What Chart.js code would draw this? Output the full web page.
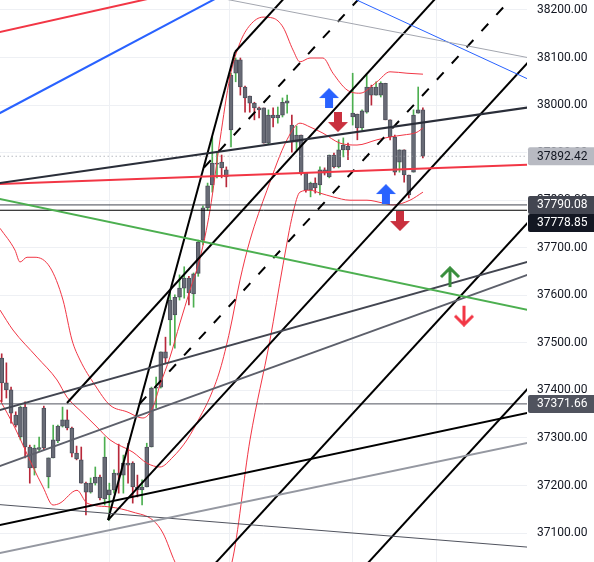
<!DOCTYPE html>
<html>
<head>
<meta charset="utf-8">
<script src="https://cdn.jsdelivr.net/npm/chart.js@4.4.1/dist/chart.umd.min.js"></script>
<style>
  html, body { margin: 0; padding: 0; background: #ffffff; }
  canvas { display: block; }
</style>
</head>
<body>
<canvas id="grafico" width="594" height="562"></canvas>
<script>
// Velas (índice de vela en el eje x)
const opens = [37468,37416,37401,37348,37302,37365,37281,37237,37276,37363,
  37218,37258,37294,37325,37338,37321,37268,37254,37205,37186,
  37205,37218,37172,37180,37191,37226,37222,37247,37247,37197,
  37191,37197,37281,37405,37407,37481,37548,37559,37596,37615,
  37636,37603,37646,37716,37784,37832,37876,37880,37864,37948,
  38067,38095,38038,38019,38004,37994,37994,37920,37979,37973,
  37979,38004,37958,37922,37937,37857,37821,37836,37832,37864,
  37849,37895,37870,37906,37914,37975,37981,37952,37985,38038,
  38021,38021,38046,37969,37933,37880,37906,37853,37859,37983,
  37990];
const highs = [37477,37458,37407,37355,37367,37376,37285,37285,37302,37367,
  37258,37327,37327,37365,37359,37323,37283,37281,37207,37216,
  37239,37222,37302,37205,37233,37287,37264,37289,37250,37222,
  37212,37289,37407,37428,37481,37512,37611,37601,37643,37660,
  37640,37647,37716,37788,37836,37933,37901,37895,37870,38067,
  38099,38099,38040,38019,38006,37996,37994,37990,37994,37996,
  38015,38021,37979,37956,37937,37857,37838,37847,37870,37868,
  37895,37899,37927,37931,37920,38067,37981,37990,38063,38042,
  38049,38049,38046,37969,37937,37906,37906,37853,37990,38038,
  37994];
const lows = [37376,37384,37331,37323,37296,37258,37205,37222,37273,37275,
  37195,37258,37290,37323,37317,37260,37254,37205,37138,37184,
  37201,37170,37159,37127,37184,37184,37184,37205,37163,37176,
  37159,37197,37281,37363,37405,37458,37495,37489,37590,37594,
  37580,37575,37640,37706,37779,37817,37847,37847,37828,37912,
  38049,38021,37985,37985,37969,37973,37920,37918,37954,37962,
  37975,37983,37901,37906,37853,37817,37807,37815,37811,37853,
  37847,37868,37868,37891,37885,37958,37927,37948,37983,38000,
  38021,38017,37969,37927,37853,37859,37838,37805,37859,37983,
  37889];
const closes = [37416,37401,37352,37327,37365,37281,37237,37279,37280,37279,
  37258,37296,37325,37338,37321,37268,37256,37205,37186,37205,
  37218,37174,37260,37191,37226,37222,37247,37243,37197,37191,
  37197,37281,37405,37407,37481,37468,37590,37596,37615,37636,
  37605,37645,37712,37784,37830,37878,37878,37868,37849,38063,
  38095,38038,38015,38004,37994,37990,37920,37979,37973,37979,
  38006,38009,37922,37937,37857,37821,37836,37826,37864,37857,
  37895,37870,37906,37916,37906,37983,37952,37988,38038,38021,
  38038,38046,37969,37933,37859,37906,37853,37811,37979,37990,
  37892.42];

// Eje de precios y separadores de sesión
const priceTicks = [37100,37200,37300,37400,37500,37600,37700,37800,37900,38000,38100,38200];
const sessionBreaks = [23.14, 48.78, 75.06, 93.01];

// Bandas (índice, precio)
const upperBand = [[-0.36,37741],[2.84,37695],[3.91,37670],[5.41,37680],[7.12,37680],[10.32,37659],
  [13.1,37590],[15.02,37506],[16.73,37464],[19.94,37411],[23.14,37369],[26.77,37355],[30.19,37342],
  [32.33,37365],[33.82,37411],[35.96,37470],[38.1,37542],[40.24,37611],[42.37,37678],[44.51,37779],
  [46.65,37927],[48.78,38059],[50.92,38131],[53.06,38168],[55.83,38185],[57.97,38183],[60.11,38164],
  [62.24,38116],[63.74,38091],[65.88,38099],[68.65,38099],[70.79,38067],[73.78,38032],[76.56,38025],
  [80.19,38049],[82.97,38070],[86.6,38067],[90.02,38065]];
const basisBand = [[-0.36,37569],[2.41,37527],[7.54,37470],[11.82,37422],[13.95,37386],[17.37,37352],
  [20.36,37323],[23.14,37296],[28.06,37270],[31.05,37247],[33.82,37239],[36.6,37260],[39.6,37296],
  [42.37,37344],[44.51,37386],[46.65,37443],[48.78,37527],[50.92,37632],[53.06,37716],[56.69,37821],
  [60.96,37927],[63.74,37962],[65.88,37954],[68.65,37941],[72.29,37920],[75.92,37916],[80.19,37927],
  [82.97,37933],[85.75,37937],[88.74,37943],[90.02,37952]];
const lowerBand = [[-0.36,37380],[2.84,37321],[6.69,37239],[8.82,37197],[10.96,37159],[12.46,37163],
  [16.09,37190],[18.23,37163],[23.14,37155],[28.06,37144],[32.33,37127],[34.46,37100],[37.03,37039],
  [40.24,36980],[45.58,36980],[49.21,37039],[53.06,37296],[57.33,37506],[60.11,37664],[62.24,37773],
  [63.74,37817],[65.88,37821],[68.01,37815],[70.79,37807],[74.42,37800],[78.06,37800],[81.47,37794],
  [83.61,37790],[87.24,37800],[90.02,37817]];

// Dibujos: extremos (índice1, precio1, índice2, precio2)
const trendLines = [
  [-0.36,38153.7,30.19,38221],
  [-0.36,37983.4,45.15,38221],
  [48.78,38221,112.89,38099],
  [75.86,38221,112.89,38052.8],
  [-0.36,37836.1,112.25,37994.7],
  [-0.36,37834,112.25,37874.6],
  [-0.36,37802.5,112.25,37569.7],
  [-0.36,37358.8,112.25,37670],
  [-0.36,37241,112.25,37642.7],
  [-0.36,37117,112.25,37352.5],
  [-0.36,37058,112.25,37289.4],
  [-0.36,37159.8,112.25,37070.6],
  [22.71,37127.4,49.85,38111.6],
  [49.85,38111.6,63.74,38261],
  [43.23,37868.5,85.11,38317.7],
  [13.95,37373.5,97.93,38280.7],
  [29.44,37371.4,115.02,38289.6],
  [22.71,37127.4,127.84,38254.6],
  [42.37,37001.3,127.84,37918.2],
  [74.85,37000.6,127.84,37569.1]
];
const trendExtend = ['both','both','both','both','both','both','both','both','both','both','both','both',
  'none','right','right','right','right','right','both','both'];
const trendStyles = [
  {c:'#f23645', w:2}, {c:'#2962ff', w:2}, {c:'#a3a6af', w:1}, {c:'#2962ff', w:1},
  {c:'#2a2e39', w:2}, {c:'#f23645', w:2}, {c:'#4caf50', w:2}, {c:'#434651', w:2},
  {c:'#5d606b', w:2}, {c:'#000000', w:2}, {c:'#9598a1', w:2}, {c:'#50535e', w:1},
  {c:'#000000', w:2}, {c:'#000000', w:2}, {c:'#000000', w:2, d:[10,12]}, {c:'#000000', w:2},
  {c:'#000000', w:2, d:[10,12]}, {c:'#000000', w:2}, {c:'#000000', w:2}, {c:'#000000', w:2}
];

// Niveles horizontales y etiquetas de precio
const levels = [37790.08, 37778.85, 37371.66];
const levelColors = ['#434651', '#000000', '#50535e'];
const lastPrice = 37892.42;
const priceLabels = [37892.42, 37790.08, 37778.85, 37371.66];
const labelFills = ['#b8bac2', '#434651', '#131722', '#50535e'];
const labelInk = ['#131722', '#ffffff', '#ffffff', '#ffffff'];

// Flechas (índice, precio)
const arrowPoints = [[69.94,38014.9],[71.86,37964.4],[82.1,37813],[85.1,37756.2],[95.79,37638.5],[98.78,37557.1]];
const arrowKinds = ['upBlue','downRed','upBlue','downRed','upGreen','downLine'];

function flechaLlena(color, up) {
  const c = document.createElement('canvas');
  c.width = 20; c.height = 20;
  const g = c.getContext('2d');
  g.fillStyle = color;
  g.beginPath();
  if (up) {
    g.moveTo(10,0); g.lineTo(20,10); g.lineTo(14,10); g.lineTo(14,20); g.lineTo(6,20); g.lineTo(6,10); g.lineTo(0,10);
  } else {
    g.moveTo(10,20); g.lineTo(20,10); g.lineTo(14,10); g.lineTo(14,0); g.lineTo(6,0); g.lineTo(6,10); g.lineTo(0,10);
  }
  g.closePath();
  g.fill();
  return c;
}
function flechaLinea(color, up) {
  const c = document.createElement('canvas');
  c.width = 22; c.height = 22;
  const g = c.getContext('2d');
  g.strokeStyle = color;
  g.lineWidth = 3;
  g.beginPath();
  if (up) {
    g.moveTo(11,2); g.lineTo(11,21);
    g.moveTo(2,11); g.lineTo(11,2); g.lineTo(20,11);
  } else {
    g.moveTo(11,1); g.lineTo(11,20);
    g.moveTo(2,11); g.lineTo(11,20); g.lineTo(20,11);
  }
  g.stroke();
  return c;
}
const arrowImages = {
  upBlue: flechaLlena('#2962ff', true),
  downRed: flechaLlena('#c9303e', false),
  upGreen: flechaLinea('#388e3c', true),
  downLine: flechaLinea('#f23645', false)
};

function extender(l, modo) {
  const [x1, y1, x2, y2] = l;
  const k = (y2 - y1) / (x2 - x1);
  const a = modo === 'both' ? -3 : x1;
  const b = modo === 'none' ? x2 : 130;
  return [{x: a, y: y1 + k * (a - x1)}, {x: b, y: y1 + k * (b - x1)}];
}

const idx = closes.map((_, i) => i);
const datasets = [];

// Mechas y cuerpos
datasets.push({
  type: 'bar', order: 20, grouped: false, barThickness: 1,
  data: idx.map(i => ({x: i, y: [lows[i], highs[i]]})),
  backgroundColor: idx.map(i => closes[i] >= opens[i] ? '#4caf50' : '#b8283a'),
  borderWidth: 0
});
datasets.push({
  type: 'bar', order: 19, grouped: false, barThickness: 4, minBarLength: 1,
  data: idx.map(i => ({x: i, y: [Math.min(opens[i], closes[i]), Math.max(opens[i], closes[i])]})),
  backgroundColor: '#686b76', borderColor: '#4e515c', borderWidth: 1, borderSkipped: false
});

// Bandas
[upperBand, basisBand, lowerBand].forEach(b => {
  datasets.push({
    type: 'line', order: 15, clip: 0,
    data: b.map(p => ({x: p[0], y: p[1]})),
    borderColor: '#f23645', borderWidth: 1, pointRadius: 0,
    cubicInterpolationMode: 'monotone', fill: false
  });
});

// Niveles horizontales
levels.forEach((v, i) => {
  datasets.push({
    type: 'line', order: 12, clip: 0,
    data: [{x: -3, y: v}, {x: 130, y: v}],
    borderColor: levelColors[i], borderWidth: 1, pointRadius: 0
  });
});
datasets.push({
  type: 'line', order: 12, clip: 0,
  data: [{x: -3, y: lastPrice}, {x: 130, y: lastPrice}],
  borderColor: '#9598a1', borderWidth: 1, borderDash: [1, 3], pointRadius: 0
});

// Líneas de tendencia y tridente
trendLines.forEach((l, i) => {
  const s = trendStyles[i];
  datasets.push({
    type: 'line', order: 10, clip: 0,
    data: extender(l, trendExtend[i]),
    borderColor: s.c, borderWidth: s.w, borderDash: s.d || [], pointRadius: 0
  });
});

// Flechas
datasets.push({
  type: 'scatter', order: 1, clip: 0,
  data: arrowPoints.map(p => ({x: p[0], y: p[1]})),
  pointStyle: arrowKinds.map(k => arrowImages[k]),
  pointRadius: 10
});

const fondoBlanco = {
  id: 'fondoBlanco',
  beforeDraw(chart) {
    const ctx = chart.ctx;
    ctx.save();
    ctx.fillStyle = '#ffffff';
    ctx.fillRect(0, 0, chart.width, chart.height);
    ctx.restore();
  }
};

const etiquetasPrecio = {
  id: 'etiquetasPrecio',
  afterDraw(chart) {
    const ctx = chart.ctx;
    const ys = chart.scales.y;
    const left = chart.chartArea.right + 1;
    const h = 18;
    let prevBottom = -Infinity;
    ctx.save();
    ctx.font = '12px Roboto';
    ctx.textBaseline = 'middle';
    ctx.textAlign = 'left';
    priceLabels.forEach((v, i) => {
      let y = ys.getPixelForValue(v);
      if (y - h / 2 < prevBottom) y = prevBottom + h / 2;
      prevBottom = y + h / 2;
      ctx.fillStyle = labelFills[i];
      ctx.beginPath();
      ctx.roundRect(left, y - h / 2, chart.width - left, h, [2, 0, 0, 2]);
      ctx.fill();
      ctx.fillStyle = labelInk[i];
      ctx.fillText(v.toFixed(2), chart.chartArea.right + 10, y + 0.5);
    });
    ctx.restore();
  }
};

new Chart(document.getElementById('grafico'), {
  type: 'bar',
  data: { datasets },
  options: {
    responsive: false,
    animation: false,
    devicePixelRatio: 1,
    events: [],
    layout: { padding: 0, autoPadding: false },
    plugins: { legend: { display: false }, tooltip: { enabled: false } },
    scales: {
      x: {
        type: 'linear', min: -0.363, max: 112.25, offset: false,
        afterBuildTicks: ax => { ax.ticks = sessionBreaks.map(v => ({value: v})); },
        grid: { color: '#eef0f4', drawTicks: false, offset: false },
        border: { display: false },
        ticks: { display: false }
      },
      y: {
        type: 'linear', position: 'right', min: 37039.2, max: 38221,
        afterBuildTicks: ax => { ax.ticks = priceTicks.map(v => ({value: v})); },
        afterFit: ax => { ax.width = 67; ax.paddingTop = 0; ax.paddingBottom = 0; },
        grid: { color: '#eef0f4', drawTicks: false },
        border: { display: false },
        ticks: {
          color: '#131722', padding: 10, crossAlign: 'near',
          font: { family: 'Roboto', size: 12 },
          callback: v => Number(v).toFixed(2)
        }
      }
    }
  },
  plugins: [fondoBlanco, etiquetasPrecio]
});
</script>
</body>
</html>
